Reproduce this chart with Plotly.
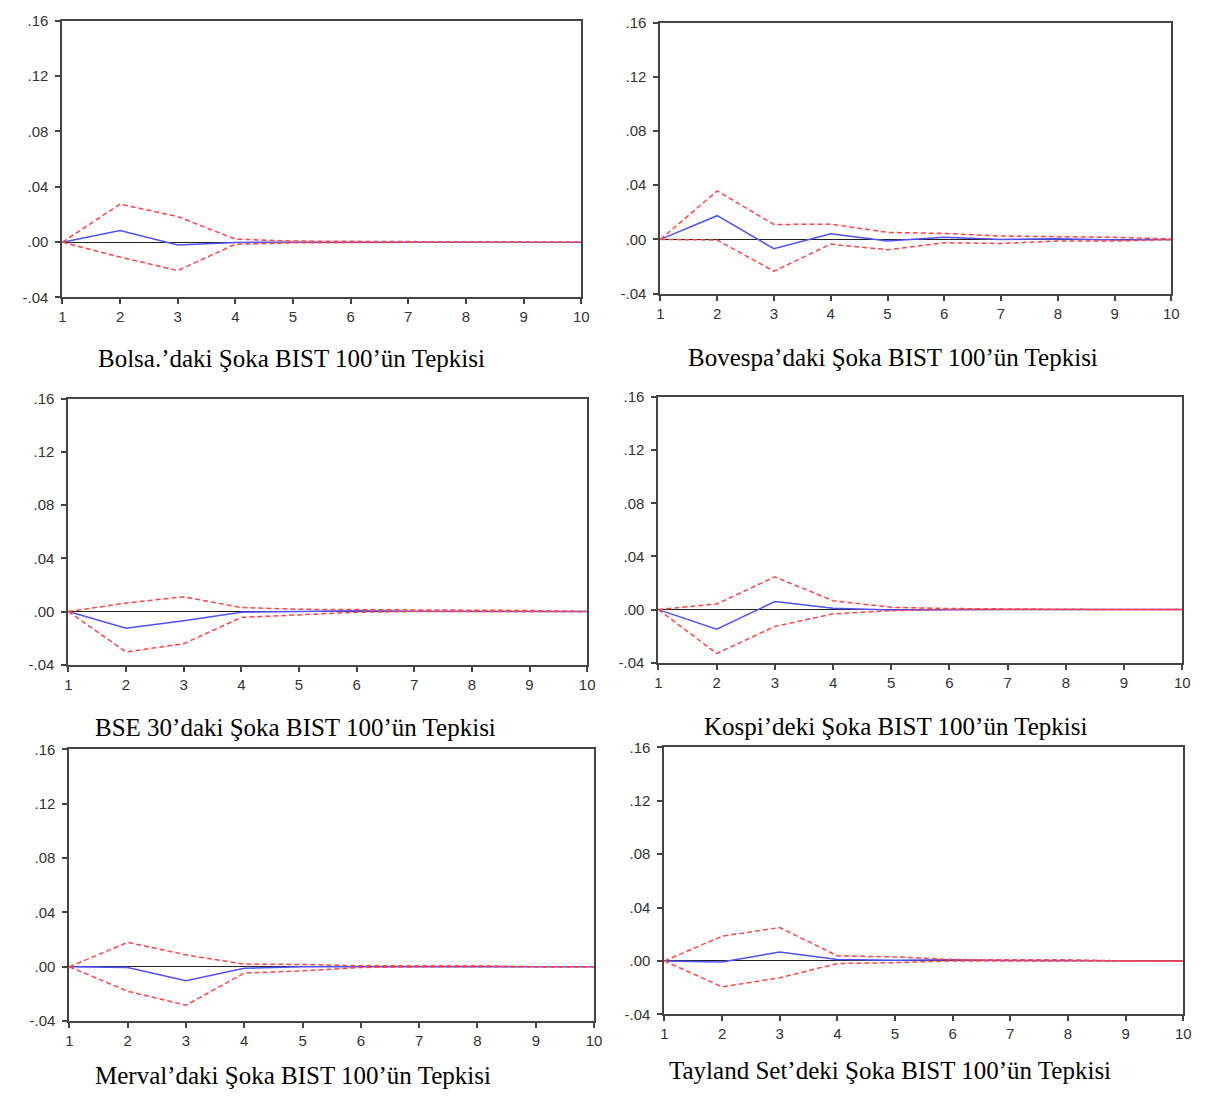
import plotly.graph_objects as go

W, H = 1214, 1102

periods = [1, 2, 3, 4, 5, 6, 7, 8, 9, 10]

titles = [
    "Bolsa.’daki Şoka BIST 100’ün Tepkisi",
    "Bovespa’daki Şoka BIST 100’ün Tepkisi",
    "BSE 30’daki Şoka BIST 100’ün Tepkisi",
    "Kospi’deki Şoka BIST 100’ün Tepkisi",
    "Merval’daki Şoka BIST 100’ün Tepkisi",
    "Tayland Set’deki Şoka BIST 100’ün Tepkisi",
]

# impulse responses (blue) and +/- 2 S.E. bands (red dashed)
bolsa_resp  = [0.0, 0.0084, -0.0020, -0.0002, 0.0, 0.0, 0.0, 0.0, 0.0, 0.0]
bolsa_upper = [0.0, 0.0275, 0.0185, 0.0022, 0.0008, 0.0005, 0.0003, 0.0, 0.0, 0.0]
bolsa_lower = [0.0, -0.0108, -0.0205, -0.0015, -0.0005, -0.0002, -0.0001, 0.0, 0.0, 0.0]

bovespa_resp  = [0.0, 0.0175, -0.0069, 0.0042, -0.0012, 0.0015, 0.0, 0.0005, -0.0004, 0.0]
bovespa_upper = [0.0, 0.0358, 0.0110, 0.0113, 0.0052, 0.0044, 0.0025, 0.0020, 0.0015, 0.0003]
bovespa_lower = [0.0, -0.0005, -0.0235, -0.0035, -0.0077, -0.0025, -0.0030, -0.0012, -0.0012, -0.0002]

bse_resp  = [0.0, -0.0126, -0.0069, -0.0005, 0.0, 0.0007, 0.0002, 0.0001, 0.0, 0.0]
bse_upper = [0.0, 0.0064, 0.0111, 0.0030, 0.0017, 0.0015, 0.0010, 0.0010, 0.0008, 0.0]
bse_lower = [0.0, -0.0304, -0.0242, -0.0044, -0.0025, -0.0005, 0.0, 0.0, 0.0, 0.0]

kospi_resp  = [0.0, -0.0147, 0.0060, 0.0010, -0.0003, 0.0001, 0.0, 0.0, 0.0, 0.0]
kospi_upper = [0.0, 0.0042, 0.0246, 0.0067, 0.0017, 0.0008, 0.0005, 0.0, 0.0, 0.0]
kospi_lower = [0.0, -0.0330, -0.0127, -0.0032, -0.0008, 0.0, 0.0, 0.0, 0.0, 0.0]

merval_resp  = [0.0, -0.0005, -0.0102, -0.0010, 0.0, 0.0002, 0.0001, 0.0, 0.0, 0.0]
merval_upper = [0.0, 0.0180, 0.0088, 0.0020, 0.0017, 0.0007, 0.0008, 0.0008, 0.0, 0.0]
merval_lower = [0.0, -0.0180, -0.0283, -0.0046, -0.0030, -0.0005, 0.0, 0.0, 0.0, 0.0]

set_resp  = [0.0, -0.0008, 0.0066, 0.0010, 0.0005, 0.0008, 0.0003, 0.0001, 0.0, 0.0]
set_upper = [0.0, 0.0185, 0.0250, 0.0038, 0.0030, 0.0010, 0.0008, 0.0008, 0.0, 0.0]
set_lower = [0.0, -0.0195, -0.0127, -0.0020, -0.0013, 0.0, 0.0, 0.0, 0.0, 0.0]

responses = [bolsa_resp, bovespa_resp, bse_resp, kospi_resp, merval_resp, set_resp]
uppers = [bolsa_upper, bovespa_upper, bse_upper, kospi_upper, merval_upper, set_upper]
lowers = [bolsa_lower, bovespa_lower, bse_lower, kospi_lower, merval_lower, set_lower]

y_tickvals = [-0.04, 0.0, 0.04, 0.08, 0.12, 0.16]
y_ticktext = ["-.04", ".00", ".04", ".08", ".12", ".16"]
x_tickvals = periods
x_ticktext = [str(p) for p in periods]

# panel boxes in pixels: left, right, top(.16), bottom(-.04), title center x, title center y
panels = [
    (59, 583, 12, 293, 290, 355),
    (663, 1179, 14, 289, 898, 354),
    (65, 589, 396, 666, 294, 730),
    (661, 1190, 394, 664, 900, 729),
    (66, 596, 752, 1028, 292, 1083),
    (667, 1191, 750, 1021, 895, 1078),
]

fig = go.Figure()
layout = dict(
    width=W, height=H,
    margin=dict(l=0, r=0, t=0, b=0),
    paper_bgcolor="white", plot_bgcolor="white",
    showlegend=False,
    annotations=[],
)

tick_font = dict(family="Liberation Sans, Arial, sans-serif", size=15, color="#333333")
title_font = dict(family="Liberation Serif, Times New Roman, serif", size=25, color="black")

for i, (l, r, t, b, tx, ty) in enumerate(panels):
    n = i + 1
    xa = "x" if n == 1 else f"x{n}"
    ya = "y" if n == 1 else f"y{n}"
    xkey = "xaxis" if n == 1 else f"xaxis{n}"
    ykey = "yaxis" if n == 1 else f"yaxis{n}"
    layout[xkey] = dict(
        domain=[l / W, r / W], anchor=ya, range=[1, 10],
        tickvals=x_tickvals, ticktext=x_ticktext,
        showline=True, mirror=True, linecolor="#444444", linewidth=2,
        ticks="outside", ticklen=5, tickwidth=1.5, tickcolor="#444444",
        showgrid=False, zeroline=False, tickfont=tick_font, fixedrange=True,
    )
    layout[ykey] = dict(
        domain=[1 - b / H, 1 - t / H], anchor=xa, range=[-0.04, 0.16],
        tickvals=y_tickvals, ticktext=y_ticktext,
        showline=True, mirror=True, linecolor="#444444", linewidth=2,
        ticks="outside", ticklen=5, tickwidth=1.5, tickcolor="#444444",
        ticklabelstandoff=4,
        showgrid=False, zeroline=True, zerolinecolor="#222222", zerolinewidth=1,
        tickfont=tick_font, fixedrange=True,
    )
    fig.add_trace(go.Scatter(x=periods, y=responses[i], mode="lines",
                             line=dict(color="#5050ff", width=1.5),
                             xaxis=xa, yaxis=ya))
    fig.add_trace(go.Scatter(x=periods, y=uppers[i], mode="lines",
                             line=dict(color="#ff4545", width=1.5, dash="5px,3px"),
                             xaxis=xa, yaxis=ya))
    fig.add_trace(go.Scatter(x=periods, y=lowers[i], mode="lines",
                             line=dict(color="#ff4545", width=1.5, dash="5px,3px"),
                             xaxis=xa, yaxis=ya))
    layout["annotations"].append(dict(
        text=titles[i], x=tx / W, y=1 - ty / H, xref="paper", yref="paper",
        xanchor="center", yanchor="middle", showarrow=False, font=title_font,
    ))

fig.update_layout(**layout)
fig.write_html("out.html")
